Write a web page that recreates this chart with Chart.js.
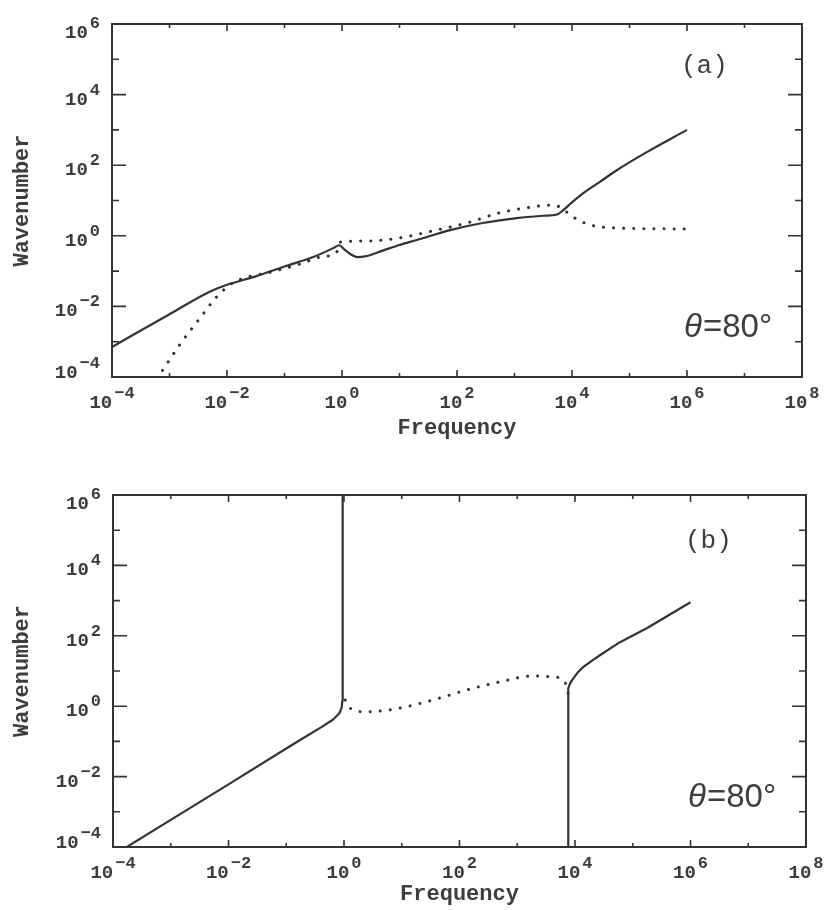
<!DOCTYPE html>
<html>
<head>
<meta charset="utf-8">
<script src="https://cdn.jsdelivr.net/npm/chart.js@4.4.1/dist/chart.umd.min.js"></script>
<style>
  html, body { margin: 0; padding: 0; background: #fff; }
  .painel { position: absolute; left: 0; width: 828px; height: 455px; }
</style>
</head>
<body>
<div class="painel" style="top:0"><canvas id="graficoA" width="828" height="455"></canvas></div>
<div class="painel" style="top:455px"><canvas id="graficoB" width="828" height="455"></canvas></div>
<script>
// Expoentes dos rótulos (décadas pares) e das marcas menores (décadas ímpares)
const expX = [-4, -2, 0, 2, 4, 6, 8];
const expXMenor = [-3, -1, 1, 3, 5, 7];
const expY = [-4, -2, 0, 2, 4, 6];
const expYMenor = [-3, -1, 1, 3, 5];

// Painel (a) — curva contínua
const freqA1 = [1e-4, 3.16e-4, 1e-3, 3.16e-3, 5e-3, 1e-2, 3.16e-2, 0.1, 0.316, 0.71, 0.89,
  1.12, 1.41, 1.82, 2.5, 5.1, 10, 20, 76, 280, 1100, 3160, 5500, 6900, 1e4, 1.55e4, 3.16e4, 6e4, 2e5, 1e6];
const numA1 = [7.1e-4, 2.07e-3, 6.0e-3, 1.76e-2, 2.6e-2, 4.1e-2, 7.1e-2, 0.135, 0.25, 0.45, 0.54,
  0.40, 0.30, 0.25, 0.26, 0.38, 0.55, 0.76, 1.45, 2.3, 3.16, 3.7, 4.0, 5.2, 8.9, 16, 35, 72, 234, 1000];
// Painel (a) — curva pontilhada
const freqA2 = [6.0e-4, 6.3e-4, 1.5e-3, 3.4e-3, 6.6e-3, 1.26e-2, 2.5e-2, 5e-2, 0.186, 0.417, 0.81,
  0.93, 2.7, 10, 38, 148, 560, 2100, 4200, 5600, 6900, 1.05e4, 2.04e4, 6e4, 3.16e5, 1e6];
const numA2 = [9e-5, 1e-4, 8.1e-4, 4.7e-3, 1.86e-2, 4.6e-2, 7.1e-2, 8.9e-2, 0.158, 0.25, 0.35,
  0.66, 0.71, 0.87, 1.38, 2.3, 4.5, 6.6, 7.4, 7.0, 5.75, 3.4, 2.04, 1.66, 1.58, 1.55];

// Painel (b) — ramo contínuo da esquerda
const freqB1 = [1e-4, 1e-3, 1e-2, 0.1, 0.174, 0.4, 0.65, 0.83, 0.91, 0.935, 0.945, 0.95, 0.95];
const numB1 = [5.75e-5, 5.9e-4, 6.0e-3, 6.3e-2, 0.11, 0.25, 0.42, 0.63, 0.9, 1.4, 3, 20, 1e6];
// Painel (b) — pontilhada
const freqB2 = [1.05, 1.26, 2.5, 9.3, 35, 135, 500, 1860, 4200, 6800, 7600];
const numB2 = [1.5, 0.89, 0.69, 0.89, 1.51, 2.9, 4.9, 7.2, 6.8, 4.6, 2.3];
// Painel (b) — ramo contínuo da direita
const freqB3 = [7600, 7600, 7700, 8100, 8900, 1.1e4, 1.38e4, 2.0e4, 2.7e4, 6e4, 1.78e5, 1e6];
const numB3 = [5e-5, 2.3, 3.2, 4.2, 5.5, 8.9, 12.9, 20, 28, 66, 166, 900];

const cor = '#333';
const corTexto = '#3d3d3d';
const graficos = {};

function pontos(fs, ks) {
  return fs.map((f, i) => ({ x: f, y: ks[i] }));
}

function serieContinua(fs, ks, suave) {
  return { data: pontos(fs, ks), showLine: true, borderColor: cor, borderWidth: 2.2,
    pointRadius: 0, tension: suave ? 0.4 : 0, cubicInterpolationMode: suave ? 'monotone' : 'default',
    borderJoinStyle: 'round' };
}

function seriePontilhada(fs, ks) {
  return { data: pontos(fs, ks), showLine: true, borderColor: cor, borderWidth: 3,
    borderDash: [0.1, 10], borderCapStyle: 'round', pointRadius: 0,
    tension: 0.4, cubicInterpolationMode: 'monotone' };
}

// Escreve "10" com o expoente sobrescrito
function potencia(ctx, e, x, base, alinhar) {
  const txtE = e < 0 ? '\u2212' + Math.abs(e) : String(e);
  ctx.font = 'bold 19px "Liberation Mono"';
  const w10 = ctx.measureText('10').width + 2;
  ctx.font = 'bold 17px "Liberation Mono"';
  const wE = ctx.measureText(txtE).width;
  const total = w10 + wE;
  const x0 = alinhar === 'centro' ? x - total / 2 : x - total;
  ctx.textAlign = 'left';
  ctx.font = 'bold 19px "Liberation Mono"';
  ctx.fillText('10', x0, base);
  ctx.font = 'bold 17px "Liberation Mono"';
  ctx.fillText(txtE, x0 + w10, base - 10);
}

const moldura = {
  id: 'moldura',
  afterDraw(chart, args, opts) {
    const { ctx, chartArea: a, scales: { x, y } } = chart;
    ctx.save();
    ctx.strokeStyle = cor;
    ctx.fillStyle = corTexto;
    ctx.lineWidth = 2;
    ctx.strokeRect(a.left, a.top, a.right - a.left, a.bottom - a.top);

    // marcas internas
    ctx.lineWidth = 1.6;
    ctx.beginPath();
    const marcaX = (e, t) => {
      const px = x.getPixelForValue(Math.pow(10, e));
      ctx.moveTo(px, a.bottom); ctx.lineTo(px, a.bottom - t);
      ctx.moveTo(px, a.top); ctx.lineTo(px, a.top + t);
    };
    const marcaY = (e, t) => {
      const py = y.getPixelForValue(Math.pow(10, e));
      ctx.moveTo(a.left, py); ctx.lineTo(a.left + t, py);
      ctx.moveTo(a.right, py); ctx.lineTo(a.right - t, py);
    };
    expX.forEach(e => marcaX(e, 7));
    expXMenor.forEach(e => marcaX(e, 4));
    expY.forEach(e => marcaY(e, 14));
    expYMenor.forEach(e => marcaY(e, 7));
    ctx.stroke();

    // rótulos dos eixos
    ctx.textBaseline = 'alphabetic';
    expX.forEach(e => {
      potencia(ctx, e, x.getPixelForValue(Math.pow(10, e)), a.bottom + 31, 'centro');
    });
    expY.forEach((e, i) => {
      let desl = 10;
      if (i === 0) desl = 1;
      if (i === expY.length - 1) desl = 14;
      potencia(ctx, e, a.left - 12, y.getPixelForValue(Math.pow(10, e)) + desl, 'direita');
    });

    // títulos
    ctx.font = 'bold 22px "Liberation Mono"';
    ctx.textAlign = 'center';
    ctx.fillText('Frequency', (a.left + a.right) / 2, a.bottom + opts.tituloX);
    ctx.save();
    ctx.translate(28, (a.top + a.bottom) / 2 + opts.ajusteY);
    ctx.rotate(-Math.PI / 2);
    ctx.fillText('Wavenumber', 0, 0);
    ctx.restore();

    // anotações
    ctx.textAlign = 'left';
    ctx.font = '26px "Liberation Mono"';
    ctx.fillText(opts.letra, a.right - 121, a.top + opts.letraY);
    ctx.font = 'italic 33px "Liberation Sans"';
    const xt = a.right - 118, yt = a.bottom - 40;
    ctx.fillText('\u03B8', xt, yt);
    const wt = ctx.measureText('\u03B8').width;
    ctx.font = '33px "Liberation Sans"';
    ctx.fillText('=80\u00B0', xt + wt + 1, yt);
    ctx.restore();
  }
};

function criarGrafico(id, datasets, padding, extra) {
  const ctx = document.getElementById(id).getContext('2d');
  graficos[id] = new Chart(ctx, {
    type: 'scatter',
    data: { datasets },
    options: {
      responsive: false,
      animation: false,
      layout: { padding },
      plugins: { legend: { display: false }, tooltip: { enabled: false }, moldura: extra },
      scales: {
        x: { type: 'logarithmic', min: 1e-4, max: 1e8, display: false },
        y: { type: 'logarithmic', min: 1e-4, max: 1e6, display: false }
      }
    },
    plugins: [moldura]
  });
}

criarGrafico('graficoA',
  [serieContinua(freqA1, numA1, true), seriePontilhada(freqA2, numA2)],
  { left: 112, top: 24, right: 26, bottom: 78 },
  { letra: '(a)', letraY: 49, tituloX: 57, ajusteY: 0 });

criarGrafico('graficoB',
  [serieContinua(freqB1, numB1, false), seriePontilhada(freqB2, numB2), serieContinua(freqB3, numB3, false)],
  { left: 113, top: 40, right: 22, bottom: 63 },
  { letra: '(b)', letraY: 53, tituloX: 53, ajusteY: 0 });
</script>
</body>
</html>
